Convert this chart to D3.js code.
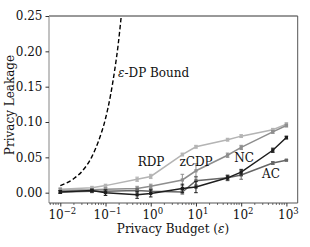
<!DOCTYPE html>
<html><head><meta charset="utf-8">
<script src="https://cdn.jsdelivr.net/npm/d3@7"></script>
<style>body{margin:0;background:#fff}svg{display:block}text{font-family:"DejaVu Serif",serif}</style>
</head><body><svg id="c" width="310" height="247"></svg>
<script>
const epsilons = [0.01, 0.05, 0.1, 0.5, 1, 5, 10, 50, 100, 500, 1000];
const seriesNames = ["RDP", "zCDP", "NC", "AC"];
const rdpValues  = [0.005, 0.007, 0.010, 0.019, 0.023, 0.054, 0.065, 0.075, 0.080, 0.089, 0.097];
const zcdpValues = [0.003, 0.004, 0.005, 0.006, 0.009, 0.018, 0.031, 0.053, 0.064, 0.086, 0.095];
const ncValues   = [0.001, 0.003, 0.000, -0.003, -0.001, 0.006, 0.008, 0.021, 0.029, 0.060, 0.078];
const acValues   = [0.001, 0.002, 0.002, 0.003, 0.002, 0.001, 0.017, 0.021, 0.025, 0.042, 0.046];
const rdpErr  = [0.002, 0.002, 0.002, 0.003, 0.003, 0.002, 0.002, 0.002, 0.002, 0.002, 0.002];
const zcdpErr = [0.003, 0.002, 0.002, 0.003, 0.003, 0.008, 0.010, 0.003, 0.003, 0.002, 0.002];
const ncErr   = [0.002, 0.002, 0.004, 0.005, 0.005, 0.006, 0.008, 0.003, 0.004, 0.003, 0.002];
const acErr   = [0.002, 0.002, 0.002, 0.003, 0.003, 0.003, 0.006, 0.004, 0.006, 0.002, 0.001];
const boundEps    = [0.01, 0.02, 0.03, 0.05, 0.07, 0.1, 0.13, 0.16, 0.19, 0.21, 0.23];
const boundValues = [0.010, 0.020, 0.030, 0.051, 0.073, 0.105, 0.139, 0.174, 0.209, 0.234, 0.259];
const xTicks = [1e-2, 1e-1, 1, 10, 100, 1000];
const xTickExps = ["\u22122", "\u22121", "0", "1", "2", "3"];
const yTicks = [0, 0.05, 0.10, 0.15, 0.20, 0.25];

const colors = {RDP: "#b4b4b4", zCDP: "#8e8e8e", NC: "#1e1e1e", AC: "#666666"};
const series = [
  {name: "RDP", vals: rdpValues, err: rdpErr},
  {name: "zCDP", vals: zcdpValues, err: zcdpErr},
  {name: "AC", vals: acValues, err: acErr},
  {name: "NC", vals: ncValues, err: ncErr}
];

const L = 49, R = 297.7, T = 16, B = 203;
const x = d3.scaleLog().domain([Math.pow(10, -2.25), Math.pow(10, 3.25)]).range([L, R]);
const y = d3.scaleLinear().domain([-0.0146, 0.25]).range([B, T]);
const svg = d3.select("#c");
svg.append("defs").append("clipPath").attr("id", "clip")
  .append("rect").attr("x", L).attr("y", T).attr("width", R - L).attr("height", B - T);

const fs = 12;
svg.append("line").attr("x1", L).attr("x2", R).attr("y1", T).attr("y2", T).attr("stroke", "#333").attr("stroke-width", 1);
svg.append("line").attr("x1", R).attr("x2", R).attr("y1", T).attr("y2", B).attr("stroke", "#555").attr("stroke-width", 1);
svg.append("line").attr("x1", L).attr("x2", L).attr("y1", T).attr("y2", B).attr("stroke", "#999").attr("stroke-width", 1.2);
svg.append("line").attr("x1", L).attr("x2", R).attr("y1", B).attr("y2", B).attr("stroke", "#555").attr("stroke-width", 1);

const ya = svg.append("g").attr("transform", `translate(${L},0)`)
  .call(d3.axisLeft(y).tickValues(yTicks).tickFormat(d3.format(".2f")).tickSize(3.5).tickPadding(3));
ya.select(".domain").remove();
ya.selectAll("line").attr("stroke", "#333");
ya.selectAll("text").attr("font-size", fs).attr("fill", "#111").style("font-family", "DejaVu Serif");

const xa = svg.append("g").attr("transform", `translate(0,${B})`)
  .call(d3.axisBottom(x).tickValues(xTicks).tickFormat("").tickSize(3.5));
xa.select(".domain").remove();
xa.selectAll("line").attr("stroke", "#333");
const minor = [];
for (let e = -3; e <= 3; e++) for (let m = 2; m <= 9; m++) { const v = m * Math.pow(10, e); if (v >= x.domain()[0] && v <= x.domain()[1]) minor.push(v); }
svg.append("g").selectAll("line").data(minor).join("line")
  .attr("x1", d => x(d)).attr("x2", d => x(d)).attr("y1", B).attr("y2", B + 2)
  .attr("stroke", "#333").attr("stroke-width", 0.7);
xTicks.forEach((t, i) => {
  const tx = svg.append("text").attr("x", x(t) + 2).attr("y", B + 15.5).attr("text-anchor", "middle")
    .attr("font-size", fs).attr("fill", "#111");
  tx.append("tspan").text("10");
  tx.append("tspan").attr("dy", -5).attr("font-size", 8.5).text(xTickExps[i]);
});

svg.append("text").attr("x", 173).attr("y", 233).attr("text-anchor", "middle").attr("font-size", fs).attr("fill", "#111")
  .html('Privacy Budget (<tspan font-style="italic">ε</tspan>)');
svg.append("text").attr("transform", "translate(14,105) rotate(-90)").attr("text-anchor", "middle")
  .attr("font-size", fs).attr("fill", "#111").text("Privacy Leakage");

const plot = svg.append("g").attr("clip-path", "url(#clip)");
const bound = boundEps.map((e, i) => [e, boundValues[i]]);
plot.append("path").datum(bound)
  .attr("d", d3.line().x(d => x(d[0])).y(d => y(d[1])).curve(d3.curveMonotoneX))
  .attr("fill", "none").attr("stroke", "#000").attr("stroke-width", 1.4).attr("stroke-dasharray", "4.5,2.5");

series.forEach(s => {
  const c = colors[s.name];
  const pts = epsilons.map((e, i) => ({e, v: s.vals[i], err: s.err[i]}));
  const g = plot.append("g");
  g.selectAll("line.eb").data(pts).join("line").attr("class", "eb")
    .attr("x1", d => x(d.e)).attr("x2", d => x(d.e)).attr("y1", d => y(d.v - d.err)).attr("y2", d => y(d.v + d.err))
    .attr("stroke", c).attr("stroke-width", 1);
  [-1, 1].forEach((sg, k) => {
    g.selectAll("line.cap" + k).data(pts).join("line").attr("class", "cap" + k)
      .attr("x1", d => x(d.e) - 1.8).attr("x2", d => x(d.e) + 1.8)
      .attr("y1", d => y(d.v + sg * d.err)).attr("y2", d => y(d.v + sg * d.err))
      .attr("stroke", c).attr("stroke-width", 1);
  });
  g.append("path").datum(pts).attr("d", d3.line().x(d => x(d.e)).y(d => y(d.v)))
    .attr("fill", "none").attr("stroke", c).attr("stroke-width", 1.5);
  g.selectAll("rect").data(pts).join("rect")
    .attr("x", d => x(d.e) - 1.6).attr("y", d => y(d.v) - 1.6).attr("width", 3.2).attr("height", 3.2).attr("fill", c);
});

svg.append("text").attr("x", 118).attr("y", 76.5).attr("font-size", fs).attr("fill", "#111")
  .html('<tspan font-style="italic">ε</tspan>-DP Bound');
const labs = [["RDP", 151, 166], ["zCDP", 196, 166], ["NC", 244, 161.5], ["AC", 271, 178]];
labs.forEach(l => svg.append("text").attr("x", l[1]).attr("y", l[2]).attr("text-anchor", "middle")
  .attr("font-size", fs).attr("fill", "#111").text(l[0]));
</script></body></html>
